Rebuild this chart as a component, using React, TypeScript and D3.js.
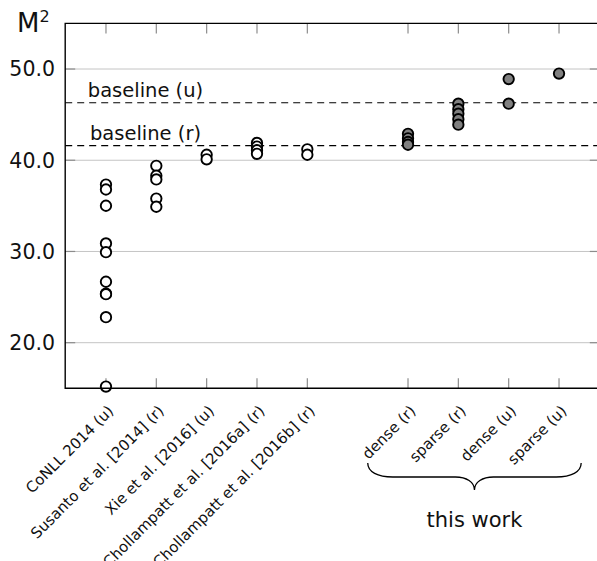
import React from "react";
import * as d3 from "d3";

// categories and their slot on the x axis (slot 6 is the empty gap)
const categories = [
  "CoNLL 2014 (u)",
  "Susanto et al. [2014] (r)",
  "Xie et al. [2016] (u)",
  "Chollampatt et al. [2016a] (r)",
  "Chollampatt et al. [2016b] (r)",
  "dense (r)",
  "sparse (r)",
  "dense (u)",
  "sparse (u)",
];
const slots = [1, 2, 3, 4, 5, 7, 8, 9, 10];

// M2 scores per category
const conll = [37.33, 36.79, 35.01, 30.88, 29.92, 26.68, 25.37, 25.32, 22.8, 15.19];
const susanto = [39.39, 38.3, 37.9, 35.8, 34.9];
const xie = [40.6, 40.1];
const chollA = [41.9, 41.5, 41.1, 40.7];
const chollB = [41.2, 40.6];
const denseR = [42.9, 42.4, 42.0, 41.7];
const sparseR = [46.2, 45.6, 45.1, 44.5, 43.9];
const denseU = [48.9, 46.2];
const sparseU = [49.5];

const values = [conll, susanto, xie, chollA, chollB, denseR, sparseR, denseU, sparseU];
const ours = [false, false, false, false, false, true, true, true, true];

const baselines = [
  { label: "baseline (u)", value: 46.3 },
  { label: "baseline (r)", value: 41.6 },
];
const yTicks = [20, 30, 40, 50];

const W = 597;
const H = 561;
const FONT = "'DejaVu Sans', sans-serif";

export default function App() {
  const x = d3.scaleLinear().domain([0.19, 10.81]).range([65.2, 599.8]);
  const y = d3.scaleLinear().domain([15, 55]).range([388.3, 23.4]);

  const [x0, x1] = x.range();
  const [yb, yt] = y.range();
  const tickLen = 10;

  // brace under "this work"
  const bl = x(6.2);
  const br = x(10.44);
  const bm = (bl + br) / 2;
  const by0 = 463;
  const by1 = 477;
  const by2 = 490;
  const brace = `M${bl},${by0} C${bl},${by0 + 9} ${bl + 10},${by1} ${bl + 25},${by1}
    L${bm - 19},${by1} C${bm - 8},${by1} ${bm},${by1 + 5} ${bm},${by2}
    C${bm},${by1 + 5} ${bm + 8},${by1} ${bm + 19},${by1}
    L${br - 25},${by1} C${br - 10},${by1} ${br},${by0 + 9} ${br},${by0}`;

  return (
    <svg
      width={W}
      height={H}
      style={{ position: "absolute", left: 0, top: 0, background: "#fff", fontFamily: FONT }}
    >
      {/* grid */}
      {yTicks.map((t) => (
        <g key={t}>
          <line x1={x0} x2={x1} y1={y(t)} y2={y(t)} stroke="#c4c4c4" strokeWidth={1} />
          <line x1={x0} x2={x0 + tickLen} y1={y(t)} y2={y(t)} stroke="#8c8c8c" strokeWidth={1.2} />
          <line x1={x1 - tickLen} x2={x1} y1={y(t)} y2={y(t)} stroke="#8c8c8c" strokeWidth={1.2} />
          <text x={55} y={y(t)} dy="0.36em" textAnchor="end" fontSize={20.5} fill="#111">
            {d3.format(".1f")(t)}
          </text>
        </g>
      ))}

      {/* category ticks top and bottom */}
      {slots.map((s) => (
        <g key={s}>
          <line x1={x(s)} x2={x(s)} y1={yt} y2={yt + tickLen} stroke="#8c8c8c" strokeWidth={1.2} />
          <line x1={x(s)} x2={x(s)} y1={yb} y2={yb - tickLen} stroke="#8c8c8c" strokeWidth={1.2} />
        </g>
      ))}

      {/* baselines */}
      {baselines.map((b) => (
        <g key={b.label}>
          <line
            x1={x0}
            x2={x1}
            y1={y(b.value)}
            y2={y(b.value)}
            stroke="#000"
            strokeWidth={1.2}
            strokeDasharray="7,5"
          />
          <text x={x(1.785)} y={y(b.value) - 6} textAnchor="middle" fontSize={19.5} fill="#111">
            {b.label}
          </text>
        </g>
      ))}

      {/* points */}
      {values.map((vals, i) =>
        vals.map((v, j) => (
          <circle
            key={`${i}-${j}`}
            cx={x(slots[i])}
            cy={y(v)}
            r={5.2}
            fill={ours[i] ? "#808080" : "#fff"}
            stroke="#000"
            strokeWidth={1.9}
          />
        )),
      )}

      {/* frame */}
      <path d={`M${x1},${yt} L${x0},${yt} L${x0},${yb} L${x1},${yb}`} fill="none" stroke="#000" strokeWidth={1.4} />

      {/* y label */}
      <text x={17} y={32} fontSize={26} fill="#111">
        M<tspan fontSize={16} dy={-10}>2</tspan>
      </text>

      {/* x labels */}
      {categories.map((c, i) => (
        <text
          key={c}
          transform={`translate(${x(slots[i]) + 5},${yb + 20}) rotate(-45)`}
          textAnchor="end"
          dominantBaseline="central"
          fontSize={15}
          fill="#111"
        >
          {c}
        </text>
      ))}

      {/* this work brace */}
      <path d={brace} fill="none" stroke="#000" strokeWidth={1.3} />
      <text x={bm} y={527} textAnchor="middle" fontSize={21} fill="#111">
        this work
      </text>
    </svg>
  );
}
